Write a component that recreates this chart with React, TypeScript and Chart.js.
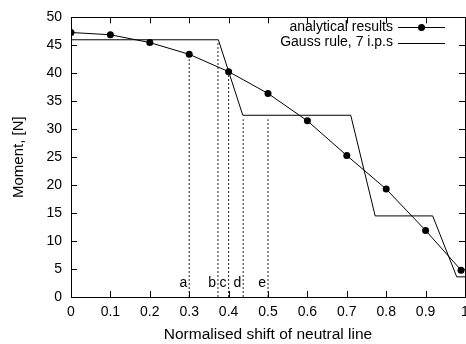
import React, { useEffect, useRef } from "react";
import { Chart, registerables } from "chart.js";

Chart.register(...registerables);

const analyticalX = [0, 0.1, 0.2, 0.3, 0.4, 0.5, 0.6, 0.7, 0.8, 0.9, 0.99];
const analyticalY = [47.3, 46.9, 45.5, 43.4, 40.3, 36.4, 31.5, 25.3, 19.3, 11.9, 4.8];

const gaussX = [0, 0.374, 0.436, 0.71, 0.772, 0.918, 0.979, 1.0];
const gaussY = [46.0, 46.0, 32.5, 32.5, 14.5, 14.5, 3.6, 3.6];

const markerX = [0.3, 0.373, 0.4, 0.437, 0.5];
const markerTop = [43.0, 45.7, 40.0, 31.8, 31.8];
const markerLabels = ["a", "b", "c", "d", "e"];

const legendLabels = ["analytical results", "Gauss rule, 7 i.p.s"];

const xTicks = [0, 0.1, 0.2, 0.3, 0.4, 0.5, 0.6, 0.7, 0.8, 0.9, 1];
const yTicks = [0, 5, 10, 15, 20, 25, 30, 35, 40, 45, 50];

const FONT = "'Liberation Sans', Arial, Helvetica, sans-serif";

export default function App() {
  const ref = useRef<HTMLCanvasElement | null>(null);

  useEffect(() => {
    const canvas = ref.current;
    if (!canvas) return;

    const markerDatasets = markerX.map((x, i) => ({
      label: "marker-" + markerLabels[i],
      data: [
        { x, y: 0 },
        { x, y: markerTop[i] },
      ],
      borderColor: "#222",
      borderWidth: 1,
      borderDash: [2, 2],
      pointRadius: 0,
      fill: false,
    }));

    const framePlugin = {
      id: "frame",
      afterDatasetsDraw(chart: any) {
        const { ctx, chartArea } = chart;
        const xs = chart.scales.x;
        const ys = chart.scales.y;
        ctx.save();
        ctx.strokeStyle = "#000";
        ctx.lineWidth = 1;
        ctx.strokeRect(
          Math.round(chartArea.left) + 0.5,
          Math.round(chartArea.top) + 0.5,
          Math.round(chartArea.right - chartArea.left),
          Math.round(chartArea.bottom - chartArea.top)
        );
        const L = 6;
        ctx.beginPath();
        xTicks.forEach((v) => {
          const px = Math.round(xs.getPixelForValue(v)) + 0.5;
          ctx.moveTo(px, chartArea.bottom);
          ctx.lineTo(px, chartArea.bottom - L);
          ctx.moveTo(px, chartArea.top);
          ctx.lineTo(px, chartArea.top + L);
        });
        yTicks.forEach((v) => {
          const py = Math.round(ys.getPixelForValue(v)) + 0.5;
          ctx.moveTo(chartArea.left, py);
          ctx.lineTo(chartArea.left + L, py);
          ctx.moveTo(chartArea.right, py);
          ctx.lineTo(chartArea.right - L, py);
        });
        ctx.stroke();

        ctx.fillStyle = "#000";
        ctx.font = "14px " + FONT;
        ctx.textAlign = "right";
        ctx.textBaseline = "alphabetic";
        markerX.forEach((x, i) => {
          const px = xs.getPixelForValue(x);
          ctx.fillText(markerLabels[i], px - 2, ys.getPixelForValue(0) - 10);
        });

        const textRight = 393;
        const lineStart = 398;
        const lineEnd = 445;
        const rowY = [27, 42.5];
        ctx.textBaseline = "middle";
        legendLabels.forEach((t, i) => {
          ctx.fillText(t, textRight, rowY[i]);
          const y = Math.round(rowY[i]) + 0.5;
          ctx.beginPath();
          ctx.moveTo(lineStart, y);
          ctx.lineTo(lineEnd, y);
          ctx.stroke();
          if (i === 0) {
            ctx.beginPath();
            ctx.arc((lineStart + lineEnd) / 2, y, 3.5, 0, Math.PI * 2);
            ctx.fill();
          }
        });
        ctx.restore();
      },
    };

    const chart = new Chart(canvas, {
      type: "line",
      data: {
        datasets: [
          {
            label: legendLabels[0],
            data: analyticalX.map((x, i) => ({ x, y: analyticalY[i] })),
            borderColor: "#000",
            backgroundColor: "#000",
            borderWidth: 1,
            pointRadius: 3.5,
            pointBorderWidth: 0,
            pointBackgroundColor: "#000",
            fill: false,
          },
          {
            label: legendLabels[1],
            data: gaussX.map((x, i) => ({ x, y: gaussY[i] })),
            borderColor: "#000",
            borderWidth: 1,
            pointRadius: 0,
            fill: false,
          },
          ...markerDatasets,
        ],
      },
      options: {
        animation: false,
        responsive: false,
        events: [],
        layout: { padding: { top: 13, right: 25, left: 0, bottom: 0 } },
        plugins: {
          legend: { display: false },
          tooltip: { enabled: false },
        },
        scales: {
          x: {
            type: "linear",
            min: 0,
            max: 1,
            afterFit: (s: any) => {
              s.height = 47;
            },
            afterBuildTicks: (s: any) => {
              s.ticks = xTicks.map((v) => ({ value: v }));
            },
            grid: { display: false, drawTicks: false },
            border: { display: false },
            ticks: {
              padding: 7,
              color: "#000",
              font: { family: FONT, size: 14 },
              maxRotation: 0,
              autoSkip: false,
              callback: (v: any) => String(Number(Number(v).toFixed(1))),
            },
            title: {
              display: true,
              text: "Normalised shift of neutral line",
              color: "#000",
              font: { family: FONT, size: 15.5 },
              padding: { top: 0, bottom: 0 },
            },
          },
          y: {
            type: "linear",
            min: 0,
            max: 50,
            afterFit: (s: any) => {
              s.width = 71;
            },
            afterBuildTicks: (s: any) => {
              s.ticks = yTicks.map((v) => ({ value: v }));
            },
            grid: { display: false, drawTicks: false },
            border: { display: false },
            ticks: {
              padding: 9,
              color: "#000",
              font: { family: FONT, size: 14 },
              autoSkip: false,
            },
            title: {
              display: true,
              text: "Moment, [N]",
              color: "#000",
              font: { family: FONT, size: 15 },
              padding: { top: 10, bottom: 0 },
            },
          },
        },
      },
      plugins: [framePlugin],
    } as any);

    return () => chart.destroy();
  }, []);

  return (
    <div style={{ position: "fixed", left: 0, top: 0, width: 466, height: 344, overflow: "hidden", background: "#fff" }}>
      <canvas ref={ref} width={490} height={344} style={{ width: 490, height: 344, display: "block" }} />
    </div>
  );
}
